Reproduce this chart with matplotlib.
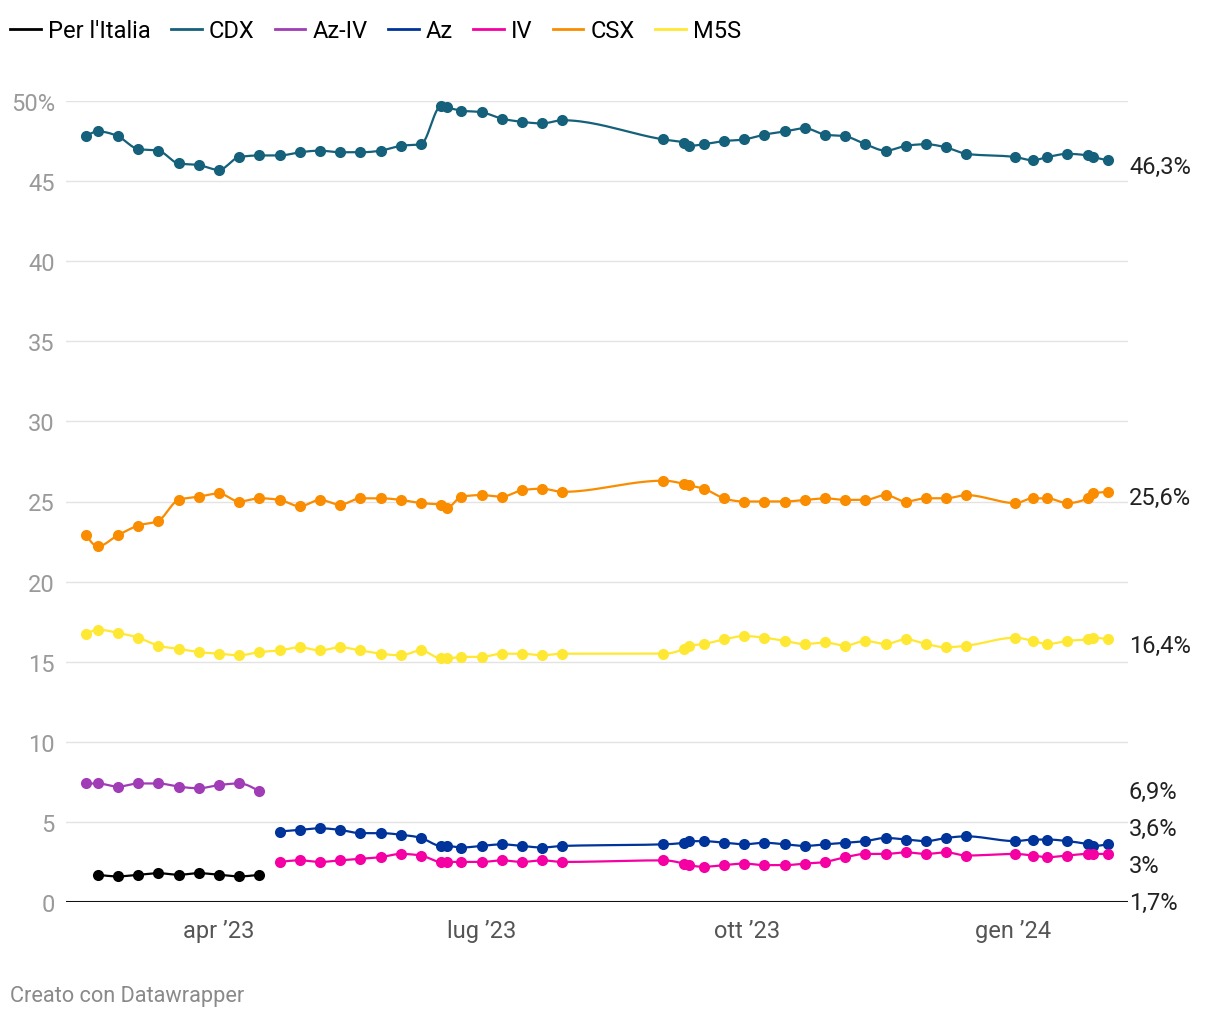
import numpy as np
import pandas as pd
import matplotlib
matplotlib.use('Agg')
import matplotlib.pyplot as plt
import matplotlib.dates as mdates
from matplotlib.lines import Line2D

plt.rcParams['font.family'] = ['Roboto', 'DejaVu Sans']

# date dei sondaggi
dates = ["2023-02-14", "2023-02-18", "2023-02-25", "2023-03-04", "2023-03-11",
         "2023-03-18", "2023-03-25", "2023-04-01", "2023-04-08", "2023-04-15",
         "2023-04-22", "2023-04-29", "2023-05-06", "2023-05-13", "2023-05-20",
         "2023-05-27", "2023-06-03", "2023-06-10", "2023-06-17", "2023-06-19",
         "2023-06-24", "2023-07-01", "2023-07-08", "2023-07-15", "2023-07-22",
         "2023-07-29", "2023-09-02", "2023-09-09", "2023-09-11", "2023-09-16",
         "2023-09-23", "2023-09-30", "2023-10-07", "2023-10-14", "2023-10-21",
         "2023-10-28", "2023-11-04", "2023-11-11", "2023-11-18", "2023-11-25",
         "2023-12-02", "2023-12-09", "2023-12-16", "2024-01-02", "2024-01-08",
         "2024-01-13", "2024-01-20", "2024-01-27", "2024-01-29", "2024-02-03"]

# valori (in %)
per_italia = [1.7, 1.6, 1.7, 1.8, 1.7, 1.8, 1.7, 1.6, 1.7]          # dates[1:10]
az_iv = [7.4, 7.4, 7.2, 7.4, 7.4, 7.2, 7.1, 7.3, 7.4, 6.9]          # dates[:10]
az = [4.4, 4.5, 4.6, 4.5, 4.3, 4.3, 4.2, 4.0, 3.5, 3.5, 3.4, 3.5, 3.6, 3.5,
      3.4, 3.5, 3.6, 3.7, 3.8, 3.8, 3.7, 3.6, 3.7, 3.6, 3.5, 3.6, 3.7, 3.8,
      4.0, 3.9, 3.8, 4.0, 4.1, 3.8, 3.9, 3.9, 3.8, 3.6, 3.5, 3.6]     # dates[10:]
iv = [2.5, 2.6, 2.5, 2.6, 2.7, 2.8, 3.0, 2.9, 2.5, 2.5, 2.5, 2.5, 2.6, 2.5,
      2.6, 2.5, 2.6, 2.4, 2.3, 2.2, 2.3, 2.4, 2.3, 2.3, 2.4, 2.5, 2.8, 3.0,
      3.0, 3.1, 3.0, 3.1, 2.9, 3.0, 2.9, 2.8, 2.9, 3.0, 3.0, 3.0]     # dates[10:]
cdx = [47.8, 48.1, 47.8, 47.0, 46.9, 46.1, 46.0, 45.7, 46.5, 46.6,
       46.6, 46.8, 46.9, 46.8, 46.8, 46.9, 47.2, 47.3, 49.7, 49.6,
       49.4, 49.3, 48.9, 48.7, 48.6, 48.8, 47.6, 47.4, 47.2, 47.3,
       47.5, 47.6, 47.9, 48.1, 48.3, 47.9, 47.8, 47.3, 46.9, 47.2,
       47.3, 47.1, 46.7, 46.5, 46.3, 46.5, 46.7, 46.6, 46.5, 46.3]
csx = [22.9, 22.2, 22.9, 23.5, 23.8, 25.1, 25.3, 25.5, 25.0, 25.2,
       25.1, 24.7, 25.1, 24.8, 25.2, 25.2, 25.1, 24.9, 24.8, 24.6,
       25.3, 25.4, 25.3, 25.7, 25.8, 25.6, 26.3, 26.1, 26.0, 25.8,
       25.2, 25.0, 25.0, 25.0, 25.1, 25.2, 25.1, 25.1, 25.4, 25.0,
       25.2, 25.2, 25.4, 24.9, 25.2, 25.2, 24.9, 25.2, 25.5, 25.6]
m5s = [16.7, 17.0, 16.8, 16.5, 16.0, 15.8, 15.6, 15.5, 15.4, 15.6,
       15.7, 15.9, 15.7, 15.9, 15.7, 15.5, 15.4, 15.7, 15.2, 15.2,
       15.3, 15.3, 15.5, 15.5, 15.4, 15.5, 15.5, 15.8, 16.0, 16.1,
       16.4, 16.6, 16.5, 16.3, 16.1, 16.2, 16.0, 16.3, 16.1, 16.4,
       16.1, 15.9, 16.0, 16.5, 16.3, 16.1, 16.3, 16.4, 16.5, 16.4]

names = ["Per l'Italia", "CDX", "Az-IV", "Az", "IV", "CSX", "M5S"]
colors = ["#000000", "#15607a", "#a03cb5", "#00349a", "#f500a3", "#fa8c00", "#ffe833"]
dt = pd.to_datetime(dates)
series = [(dt[1:10], per_italia), (dt, cdx), (dt[:10], az_iv), (dt[10:], az),
          (dt[10:], iv), (dt, csx), (dt, m5s)]

xticks = pd.to_datetime(["2023-04-01", "2023-07-01", "2023-10-01", "2024-01-01"])
xlabels = ["apr \u201923", "lug \u201923", "ott \u201923", "gen \u201924"]


def monotone_curve(x, y, n=24):
    # curva monotona (come d3 curveMonotoneX) solo per il disegno della linea
    x = np.asarray(x, float)
    y = np.asarray(y, float)
    if len(x) < 3:
        return x, y
    h = np.diff(x)
    s = np.diff(y) / h
    m = np.zeros(len(x))
    for i in range(1, len(x) - 1):
        p = (s[i - 1] * h[i] + s[i] * h[i - 1]) / (h[i - 1] + h[i])
        m[i] = (np.sign(s[i - 1]) + np.sign(s[i])) * min(abs(s[i - 1]), abs(s[i]), 0.5 * abs(p))
    m[0] = (3 * s[0] - m[1]) / 2
    m[-1] = (3 * s[-1] - m[-2]) / 2
    xs, ys = [], []
    for i in range(len(x) - 1):
        t = np.linspace(0, 1, n)
        h00 = 2 * t**3 - 3 * t**2 + 1
        h10 = t**3 - 2 * t**2 + t
        h01 = -2 * t**3 + 3 * t**2
        h11 = t**3 - t**2
        xs.append(x[i] + t * h[i])
        ys.append(h00 * y[i] + h10 * h[i] * m[i] + h01 * y[i + 1] + h11 * h[i] * m[i + 1])
    return np.concatenate(xs), np.concatenate(ys)


fig = plt.figure(figsize=(12.2, 10.2), dpi=100)
ax = fig.add_axes([66 / 1220, 1 - 903 / 1020, (1128 - 66) / 1220, (903 - 102) / 1020])

for (d, vals), name, col in zip(series, names, colors):
    xn = mdates.date2num(d)
    cx, cy = monotone_curve(xn, vals)
    ax.plot(cx, cy, color=col, lw=1.6, solid_capstyle='round', zorder=3, clip_on=False)
    ax.plot(xn, vals, 'o', color=col, ms=8, mew=0, zorder=4, clip_on=False)

ax.set_ylim(0, 50)
ax.set_xlim(mdates.date2num(pd.Timestamp("2023-02-07")), mdates.date2num(pd.Timestamp("2024-02-10")))
ax.set_yticks(range(0, 51, 5))
ax.set_yticklabels([str(v) if v < 50 else "50%" for v in range(0, 51, 5)])
ax.set_xticks(mdates.date2num(xticks))
ax.set_xticklabels(xlabels)
ax.tick_params(axis='y', length=0, pad=8, labelsize=17, labelcolor='#9a9a9a')
ax.tick_params(axis='x', length=0, pad=12, labelsize=17, labelcolor='#555555')
ax.grid(axis='y', color='#e3e3e3', lw=1)
ax.set_axisbelow(True)
for sp in ax.spines.values():
    sp.set_visible(False)
ax.axhline(0, color='#111111', lw=2.2, zorder=2)

# etichette finali con semplice anti-sovrapposizione
last = [vals[-1] for _, vals in series]
order = np.argsort(last)
pos = np.array(last, float)
gap = 2.3
for _ in range(300):
    for a, b in zip(order[:-1], order[1:]):
        if pos[b] - pos[a] < gap:
            push = (gap - (pos[b] - pos[a])) / 2
            pos[a] -= push
            pos[b] += push
for v, p in zip(last, pos):
    txt = ('%.1f' % v).replace('.', ',')
    if txt.endswith(',0'):
        txt = txt[:-2]
    ax.annotate(txt + '%', xy=(1.0, p), xycoords=('axes fraction', 'data'),
                xytext=(1, -6), textcoords='offset pixels', ha='left', va='center',
                fontsize=17, color='#222222', annotation_clip=False)

handles = [Line2D([0], [0], color=c, lw=2) for c in colors]
fig.legend(handles, names, loc='upper left', bbox_to_anchor=(10 / 1220, 1 - 20 / 1020),
           ncol=7, frameon=False, fontsize=17, handlelength=1.3, handletextpad=0.3,
           columnspacing=0.86, borderaxespad=0, borderpad=0)

fig.text(10 / 1220, 1 - 997 / 1020, "Creato con Datawrapper", fontsize=15.7,
         color='#8a8a8a', va='center', ha='left')

fig.savefig('out.png', dpi=100)
